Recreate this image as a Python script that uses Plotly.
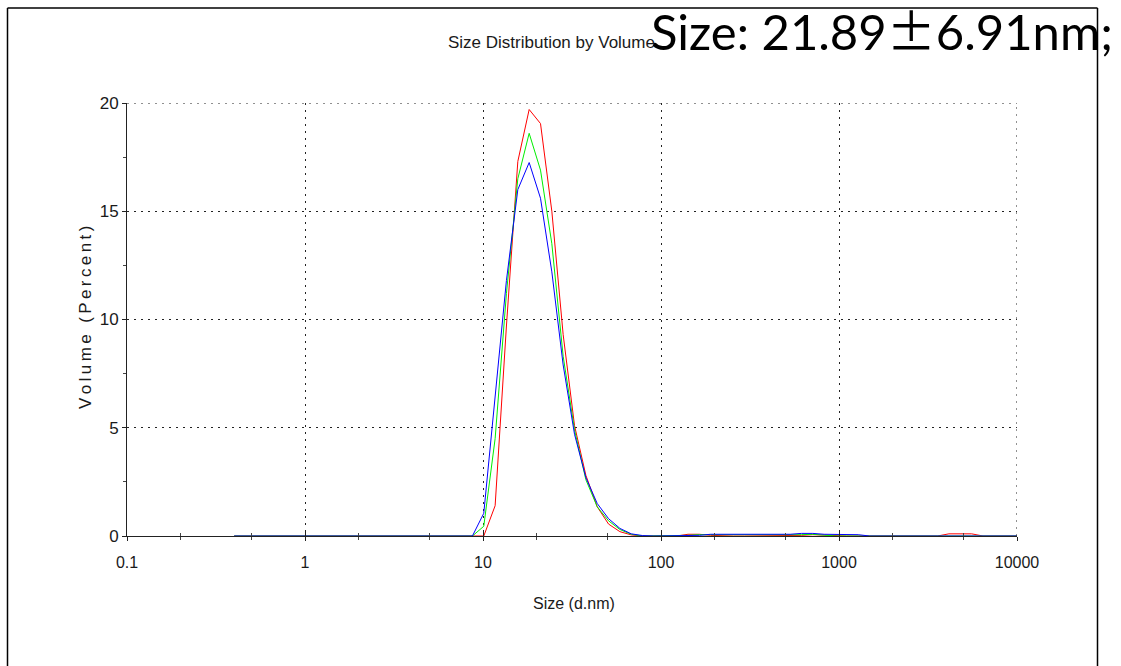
import plotly.graph_objects as go

# Malvern size bins (d.nm)
sizes = [0.4, 0.4632, 0.5365, 0.6213, 0.7195, 0.8332, 0.9649, 1.117, 1.294, 1.499,
         1.736, 2.01, 2.328, 2.696, 3.122, 3.615, 4.187, 4.849, 5.615, 6.503,
         7.531, 8.721, 10.1, 11.7, 13.54, 15.69, 18.17, 21.04, 24.36, 28.21,
         32.67, 37.84, 43.82, 50.75, 58.77, 68.06, 78.82, 91.28, 105.7, 122.4,
         141.8, 164.2, 190.1, 220.2, 255.0, 295.3, 342.0, 396.1, 458.7, 531.2,
         615.1, 712.4, 825.0, 955.4, 1106, 1281, 1484, 1718, 1990, 2305,
         2669, 3091, 3580, 4145, 4801, 5560, 6439, 7456, 8635, 10000]

red = ([0]*23 +
       [1.4, 9.7, 17.3, 19.7, 19.05, 15.0, 9.3, 5.1, 2.8, 1.35, 0.55, 0.2, 0.05,
        0, 0, 0, 0, 0.08, 0.08, 0.03, 0, 0, 0, 0, 0, 0, 0, 0.03, 0.06, 0.04,
        0, 0, 0, 0, 0, 0, 0, 0, 0, 0, 0.1, 0.1, 0.1, 0, 0, 0, 0])
green = ([0]*22 +
         [0.45, 4.5, 11.2, 16.5, 18.6, 16.9, 13.5, 8.3, 4.9, 2.6, 1.35, 0.7, 0.3, 0.08,
          0, 0, 0, 0, 0.03, 0.06, 0.06, 0.04, 0.03, 0.03, 0.03, 0.03, 0.03, 0.03,
          0.06, 0.08, 0.03, 0, 0, 0, 0, 0, 0, 0, 0, 0, 0, 0, 0, 0, 0, 0, 0, 0])
blue = ([0]*22 +
        [1.05, 6.5, 11.8, 16.0, 17.25, 15.6, 12.2, 7.9, 4.7, 2.7, 1.5, 0.8, 0.35, 0.1,
         0.02, 0, 0, 0, 0, 0.03, 0.08, 0.08, 0.08, 0.08, 0.08, 0.08, 0.08, 0.08,
         0.12, 0.12, 0.08, 0.08, 0.08, 0.06, 0, 0, 0, 0, 0, 0, 0, 0, 0, 0, 0, 0, 0, 0])

x_ticks = [0.1, 1, 10, 100, 1000, 10000]
x_tick_labels = ["0.1", "1", "10", "100", "1000", "10000"]
y_ticks = [0, 5, 10, 15, 20]

W, H = 1121, 666
L, R, T, B = 127, 1017, 103, 536  # plot area in pixels


def px(xp):
    return (xp - L) / (R - L)


def py(yp):
    return (B - yp) / (B - T)


sans = "Liberation Sans, Arial, sans-serif"
DOT = "2px,5px"

fig = go.Figure()
for vals, col in [(red, "#ff0000"), (green, "#00ee00"), (blue, "#0000ff")]:
    fig.add_trace(go.Scatter(x=sizes, y=vals, mode="lines",
                             line=dict(color=col, width=1), showlegend=False,
                             hoverinfo="skip"))
# empty trace to activate the overlay axis (inside ticks)
fig.add_trace(go.Scatter(x=[], y=[], xaxis="x2", showlegend=False))

grid = dict(gridcolor="#222", gridwidth=1, griddash=DOT)

fig.update_layout(
    width=W, height=H,
    margin=dict(l=L, r=W - R, t=T, b=H - B, pad=0),
    paper_bgcolor="white", plot_bgcolor="white",
    xaxis=dict(type="log", range=[-1, 4], tickvals=x_ticks, ticktext=x_tick_labels,
               showline=True, linecolor="#222", linewidth=1,
               ticks="outside", ticklen=4, tickcolor="#222",
               minor=dict(ticks="outside", ticklen=3, tickcolor="#444", showgrid=False),
               tickfont=dict(family=sans, size=16, color="#1a1a1a"),
               ticklabelstandoff=8,
               showgrid=True, zeroline=False, **grid),
    xaxis2=dict(type="log", range=[-1, 4], overlaying="x", anchor="y", side="bottom",
                tickvals=x_ticks, showticklabels=False, showgrid=False,
                ticks="inside", ticklen=4, tickcolor="#222",
                minor=dict(ticks="inside", ticklen=3, tickcolor="#444", showgrid=False),
                showline=False, zeroline=False),
    yaxis=dict(range=[0, 20], tickvals=y_ticks,
               showline=True, linecolor="#222", linewidth=1,
               ticks="outside", ticklen=4, tickcolor="#222",
               minor=dict(dtick=2.5, ticks="outside", ticklen=3, tickcolor="#444", showgrid=False),
               tickfont=dict(family=sans, size=17, color="#1a1a1a"),
               showgrid=True, zeroline=False, **grid),
)

# boundary grid lines (top at 20, right at 10000)
fig.add_shape(type="line", xref="paper", yref="y", x0=0, x1=1, y0=y_ticks[-1], y1=y_ticks[-1],
              line=dict(color="#222", width=1, dash=DOT))
fig.add_shape(type="line", xref="x", yref="paper", x0=x_ticks[-1], x1=x_ticks[-1], y0=0, y1=1,
              line=dict(color="#222", width=1, dash=DOT))

# frame lines around the picture
frame = [(7.5, 8, 7.5, 666), (7.5, 8, 1097.5, 8), (1097.5, 8, 1097.5, 666)]
for x0, y0, x1, y1 in frame:
    fig.add_shape(type="line", xref="paper", yref="paper",
                  x0=px(x0), y0=py(y0), x1=px(x1), y1=py(y1),
                  line=dict(color="black", width=1.5))

fig.add_annotation(text="Size Distribution by Volume", xref="paper", yref="paper",
                   x=px(551), y=py(42), showarrow=False, xanchor="center", yanchor="middle",
                   font=dict(family=sans, size=17, color="#1a1a1a"))
fig.add_annotation(text="Size (d.nm)", xref="paper", yref="paper",
                   x=px(574), y=py(603), showarrow=False, xanchor="center", yanchor="middle",
                   font=dict(family=sans, size=16, color="#1a1a1a"))
fig.add_annotation(text="\u2009".join("Volume (Percent)"), xref="paper", yref="paper",
                   x=px(85), y=py(318), showarrow=False, xanchor="center", yanchor="middle",
                   textangle=-90,
                   font=dict(family=sans, size=17, color="#1a1a1a"))
fig.add_annotation(text="Size: 21.89<span style='font-family:Noto Sans CJK SC'>\u00b1</span>6.91nm;",
                   xref="paper", yref="paper",
                   x=px(1115), y=py(28), showarrow=False, xanchor="right", yanchor="middle",
                   font=dict(family="Lato, Open Sans, sans-serif", size=49, color="black"))

fig.write_html("out.html")
